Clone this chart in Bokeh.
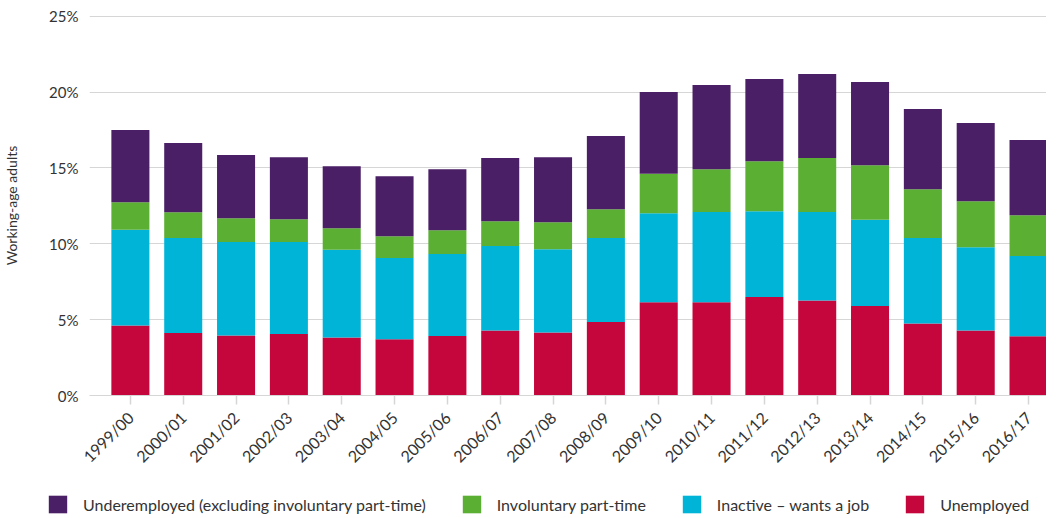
from bokeh.plotting import figure
from bokeh.layouts import column, row
from bokeh.models import (ColumnDataSource, Range1d, FixedTicker, PrintfTickFormatter,
                          Legend, LegendItem)
from bokeh.embed import file_html
from bokeh.resources import INLINE

categories = ["1999/00", "2000/01", "2001/02", "2002/03", "2003/04", "2004/05",
              "2005/06", "2006/07", "2007/08", "2008/09", "2009/10", "2010/11",
              "2011/12", "2012/13", "2013/14", "2014/15", "2015/16", "2016/17"]

unemployed = [4.62, 4.12, 3.96, 4.05, 3.83, 3.70, 3.92, 4.29, 4.16, 4.84,
              6.14, 6.14, 6.49, 6.27, 5.90, 4.75, 4.29, 3.90]
inactive_wants_job = [6.30, 6.27, 6.16, 6.07, 5.77, 5.37, 5.41, 5.57, 5.48, 5.55,
                      5.88, 5.96, 5.66, 5.83, 5.68, 5.64, 5.48, 5.30]
involuntary_part_time = [1.82, 1.69, 1.57, 1.50, 1.43, 1.43, 1.56, 1.63, 1.78, 1.89,
                         2.59, 2.82, 3.30, 3.55, 3.60, 3.21, 3.04, 2.68]
underemployed = [4.76, 4.56, 4.16, 4.09, 4.09, 3.96, 4.03, 4.16, 4.29, 4.82,
                 5.39, 5.55, 5.41, 5.54, 5.48, 5.28, 5.15, 4.96]

series_names = ["Unemployed", "Inactive \u2013 wants a job", "Involuntary part-time",
                "Underemployed (excluding involuntary part-time)"]
colors = ["#c4063c", "#00b4d8", "#5baf33", "#4a1f65"]
y_ticks = [0, 5, 10, 15, 20, 25]

FONT = "Lato"
TEXT = "#333333"

x = list(range(len(categories)))
source = ColumnDataSource(dict(x=x, u=unemployed, i=inactive_wants_job,
                               v=involuntary_part_time, d=underemployed))
stack_cols = ["u", "i", "v", "d"]

p = figure(width=1046, height=484, output_backend="svg", toolbar_location=None,
           x_range=Range1d(-0.774, 17.34), y_range=Range1d(0, 25.05),
           min_border_left=86, min_border_right=0, min_border_top=15,
           min_border_bottom=89)
p.outline_line_color = None

p.vbar_stack(stack_cols, x="x", width=0.72, color=colors,
             source=source, line_color=None)

# axes
p.xaxis.ticker = FixedTicker(ticks=x)
p.xaxis.major_label_overrides = {i: c for i, c in enumerate(categories)}
p.xaxis.major_label_orientation = 0.785398
p.xaxis.axis_line_color = "#d6d6d6"
p.xaxis.major_tick_line_color = "#d6d6d6"
p.xaxis.major_tick_line_width = 1.5
p.xaxis.major_tick_in = 0
p.xaxis.major_tick_out = 9
p.xaxis.minor_tick_line_color = None
p.xaxis.major_label_text_font = FONT
p.xaxis.major_label_text_font_size = "16px"
p.xaxis.major_label_text_color = TEXT
p.xaxis.major_label_standoff = 10

p.yaxis.ticker = FixedTicker(ticks=y_ticks)
p.yaxis.formatter = PrintfTickFormatter(format="%d%%")
p.yaxis.axis_line_color = None
p.yaxis.major_tick_line_color = None
p.yaxis.minor_tick_line_color = None
p.yaxis.major_tick_in = 0
p.yaxis.major_tick_out = 0
p.yaxis.major_label_text_font = FONT
p.yaxis.major_label_text_font_size = "15px"
p.yaxis.major_label_text_color = TEXT
p.yaxis.major_label_standoff = 11
p.yaxis.axis_label = "Working-age adults"
p.yaxis.axis_label_text_font = FONT
p.yaxis.axis_label_text_font_size = "14px"
p.yaxis.axis_label_text_font_style = "normal"
p.yaxis.axis_label_text_color = TEXT
p.yaxis.axis_label_standoff = 26

p.xgrid.grid_line_color = None
p.ygrid.grid_line_color = "#d6d6d6"
p.ygrid.grid_line_width = 1

# legend strip (same stacked glyphs, kept out of its visible range)
lp = figure(width=1046, height=34, output_backend="svg", toolbar_location=None,
            x_range=Range1d(-30, -20), y_range=Range1d(-30, -20),
            x_axis_location=None, y_axis_location=None, min_border=0)
lp.outline_line_color = None
lp.xgrid.grid_line_color = None
lp.ygrid.grid_line_color = None
leg_renderers = lp.vbar_stack(stack_cols, x="x", width=0.72, color=colors,
                              source=source, line_color=None)

items = [LegendItem(label=series_names[k], renderers=[leg_renderers[k]]) for k in [3, 2, 1, 0]]
legend = Legend(items=items, orientation="horizontal", location=(46, 3),
                glyph_width=23, glyph_height=22, label_height=22, label_standoff=14,
                spacing=34, padding=0, margin=0, border_line_color=None,
                background_fill_alpha=0, label_text_font=FONT,
                label_text_font_size="16px", label_text_color=TEXT)
lp.add_layout(legend, "center")

layout = column(p, row(lp), spacing=0)

open("out.html", "w").write(file_html(layout, INLINE))
